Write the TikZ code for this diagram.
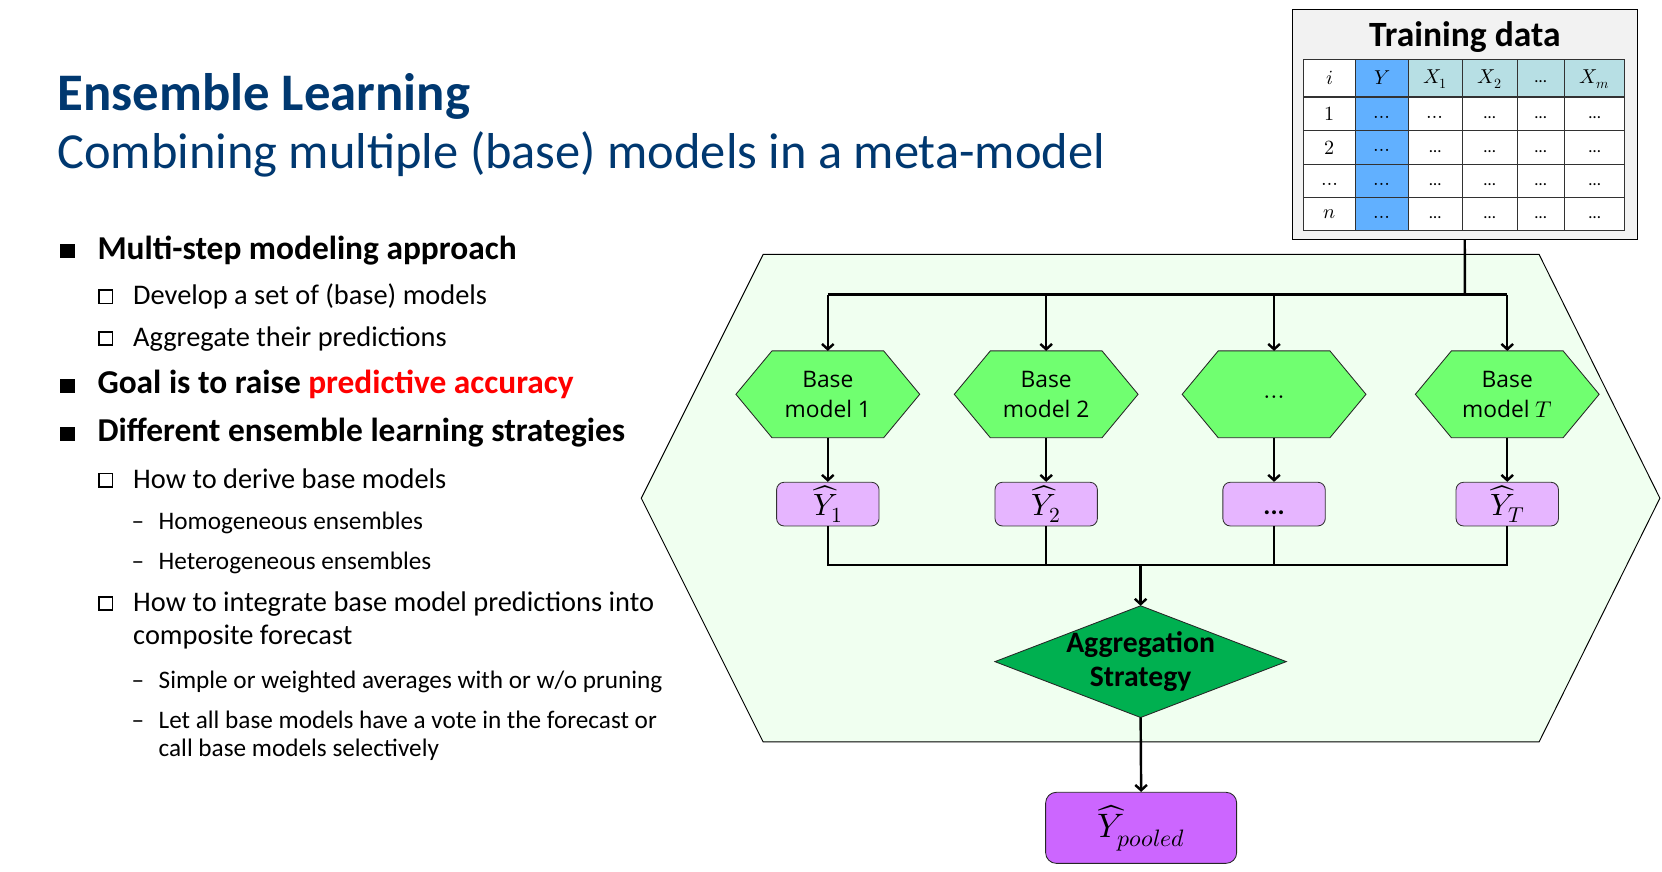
\documentclass[tikz,border=0pt]{standalone}
\usepackage{fontspec}
\usepackage{unicode-math}
\setmainfont{Carlito}
\setmathfont{Latin Modern Math}
\newfontfamily\hexfont{Open Sans}
\usetikzlibrary{arrows.meta}
\pgfdeclarelayer{background}
\pgfsetlayers{background,main}

\definecolor{titleblue}{RGB}{0,56,112}
\definecolor{hexgreen}{RGB}{112,255,112}
\definecolor{predlilac}{RGB}{230,181,255}
\definecolor{pooledviolet}{RGB}{204,102,255}
\definecolor{aggreen}{RGB}{0,176,80}
\definecolor{panelgreen}{RGB}{240,255,240}
\definecolor{ycol}{RGB}{97,176,255}
\definecolor{headteal}{RGB}{183,223,228}
\definecolor{boxgray}{RGB}{242,242,242}
\definecolor{gridgray}{RGB}{50,50,50}

\begin{document}
\begin{tikzpicture}[x=1pt,y=-1pt,
  conn/.style={line width=2.3pt},
  arr/.style={conn,-{Straight Barb[length=5pt,width=11pt]}},
  hexbox/.style={minimum width=173pt,minimum height=81.5pt,inner sep=0pt,
    align=center,font=\hexfont\fontsize{21.5}{28}\selectfont},
  hexshape/.style={fill=hexgreen,draw=black!85,line width=0.8pt},
  predbox/.style={draw=black!80,line width=0.8pt,fill=predlilac,rounded corners=7pt,
    minimum width=96.6pt,minimum height=41.2pt,inner sep=0pt,font=\fontsize{29}{31}\selectfont},
  cell/.style={inner sep=0pt,font=\fontsize{19}{21}\selectfont},
  gridline/.style={draw=gridgray,line width=1pt},
  lone/.style={anchor=base west,inner sep=0pt,font=\bfseries\fontsize{31.5}{34}\selectfont},
  ltwo/.style={anchor=base west,inner sep=0pt,font=\fontsize{26.8}{30}\selectfont},
  lthree/.style={anchor=base west,inner sep=0pt,font=\fontsize{23.8}{26}\selectfont},
  fullbullet/.style={fill=black,inner sep=0pt,minimum width=14pt,minimum height=13pt},
  openbullet/.style={draw=black,line width=1.4pt,inner sep=0pt,minimum size=12.6pt},
]
\useasboundingbox (0,0) rectangle (1568,822);

% ---------- heading ----------
\node[anchor=base west,inner sep=0pt,text=titleblue,font=\bfseries\fontsize{49.8}{54}\selectfont]
  (title) at (54,104.7) {Ensemble Learning};
\node[anchor=base west,inner sep=0pt,text=titleblue,font=\fontsize{47.6}{52}\selectfont]
  (subtitle) at (54,159.4) {Combining multiple (base) models in a meta-model};

% ---------- bullet list ----------
\node[fullbullet] (bu1) at (64,237) {};
\node[lone] (t1) at (91.8,244.6) {Multi-step modeling approach};
\node[openbullet] (bu2) at (99.8,280) {};
\node[ltwo] (t2) at (125.5,287.7) {Develop a set of (base) models};
\node[openbullet] (bu3) at (99.8,319.3) {};
\node[ltwo] (t3) at (125.5,327) {Aggregate their predictions};
\node[fullbullet] (bu4) at (64,364.1) {};
\node[lone] (t4) at (91.8,371.7) {Goal is to raise \textcolor{red}{predictive accuracy}};
\node[fullbullet] (bu5) at (64,409.1) {};
\node[lone] (t5) at (91.8,416.7) {Different ensemble learning strategies};
\node[openbullet] (bu6) at (99.8,453) {};
\node[ltwo] (t6) at (125.5,460.7) {How to derive base models};
\node[lthree] (d7) at (124,500) {--};
\node[lthree] (t7) at (149.5,500) {Homogeneous ensembles};
\node[lthree] (d8) at (124,537.7) {--};
\node[lthree] (t8) at (149.5,537.7) {Heterogeneous ensembles};
\node[openbullet] (bu9) at (99.8,569.3) {};
\node[ltwo] (t9a) at (125.5,577) {How to integrate base model predictions into};
\node[ltwo] (t9b) at (125.5,608.5) {composite forecast};
\node[lthree] (d10) at (124,649.4) {--};
\node[lthree] (t10) at (149.5,649.4) {Simple or weighted averages with or w/o pruning};
\node[lthree] (d11) at (124,687) {--};
\node[lthree] (t11a) at (149.5,687) {Let all base models have a vote in the forecast or};
\node[lthree] (t11b) at (149.5,713.9) {call base models selectively};

% ---------- training data ----------
\node[draw=black,line width=1pt,fill=boxgray,minimum width=325.4pt,minimum height=217pt,inner sep=0pt]
  (train) at (1381.9,117.3) {};
\node[anchor=base,inner sep=0pt,font=\bfseries\fontsize{33.5}{36}\selectfont]
  (traintitle) at (1382,43.5) {Training data};
\fill[white] (1229.5,55.9) rectangle (1533,217.9);
\fill[headteal] (1328.6,55.9) rectangle (1533,91.5);
\fill[ycol] (1279,55.9) rectangle (1328.6,217.9);
\foreach \yy in {91.5,123.3,155,186.5}
  \draw[gridline] (1229.5,\yy) -- (1533,\yy);
\foreach \xx in {1279,1328.6,1379.5,1431.4,1475.8}
  \draw[gridline] (\xx,55.9) -- (\xx,217.9);
\draw[gridline] (1229.5,55.9) rectangle (1533,217.9);
% header row
\node[cell] (h1) at (1254.3,73.7) {$i$};
\node[cell] (h2) at (1303.8,73.7) {$Y$};
\node[cell] (h3) at (1354,75) {$X_1$};
\node[cell] (h4) at (1405.5,75) {$X_2$};
\node[cell,font=\fontsize{16}{18}\selectfont] (h5) at (1453.6,77) {…};
\node[cell] (h6) at (1504.4,75) {$X_m$};
% body rows
\foreach \r/\yy/\lab in {1/107.4/$1$,2/139.2/$2$,3/173.8/$\ldots$,4/202.2/$n$}{
  \node[cell] (r\r c1) at (1254.3,\yy) {\lab};
}
\foreach \r/\yy in {1/107.4,2/139.2,3/170.8,4/202.2}{
  \node[cell] (r\r c2) at (1303.8,\yy+3) {$\ldots$};
  \node[cell,font=\fontsize{16}{18}\selectfont] (r\r c4) at (1405.5,\yy+3.5) {…};
  \node[cell,font=\fontsize{16}{18}\selectfont] (r\r c5) at (1453.6,\yy+3.5) {…};
  \node[cell,font=\fontsize{16}{18}\selectfont] (r\r c6) at (1504.4,\yy+3.5) {…};
}
\node[cell] (r1c3) at (1354,110.4) {$\ldots$};
\foreach \r/\yy in {2/139.2,3/170.8,4/202.2}
  \node[cell,font=\fontsize{16}{18}\selectfont] (r\r c3) at (1354,\yy+3.5) {…};

% ---------- base models ----------
\node[hexbox] (b1) at (781,372) {Base\\model 1};
\node[hexbox] (b2) at (987,372) {Base\\model 2};
\node[hexbox] (b3) at (1202,372) {};
\node[inner sep=0pt,font=\fontsize{24}{26}\selectfont] (b3dots) at (1202,377) {$\cdots$};
\node[hexbox] (bT) at (1422,372) {Base\\model $T$};

\node[predbox] (p1) at (781,475.6) {$\widehat{Y}_1$};
\node[predbox] (p2) at (987,475.6) {$\widehat{Y}_2$};
\node[predbox,font=\bfseries\fontsize{25}{28}\selectfont] (p3) at (1202,475.6) {\rule{0pt}{20pt}...};
\node[predbox] (pT) at (1422,475.6) {$\widehat{Y}_T$};

% ---------- aggregation ----------
\node[minimum width=274.5pt,minimum height=105pt,inner sep=0pt,align=center,
  font=\bfseries\fontsize{28}{32}\selectfont] (agg) at (1076.1,624.2) {Aggregation\\Strategy};
\node[draw=black!85,line width=0.8pt,fill=pooledviolet,rounded corners=10pt,
  minimum width=180.2pt,minimum height=67pt,inner sep=0pt,font=\fontsize{32}{34}\selectfont]
  (pooled) at (1076.6,781) {$\widehat{Y}_{pooled}$};

% ---------- shapes behind the labels ----------
\begin{pgfonlayer}{background}
  \filldraw[fill=panelgreen,draw=black,line width=0.9pt]
    (605,470) -- (720,240) -- (1452,240) -- (1566,470) -- (1452,700) -- (720,700) -- cycle;
  \foreach \h in {b1,b2,b3,bT}
    \filldraw[hexshape] (\h.west) -- ([xshift=34pt]\h.north west) -- ([xshift=-34pt]\h.north east)
      -- (\h.east) -- ([xshift=-34pt]\h.south east) -- ([xshift=34pt]\h.south west) -- cycle;
  \filldraw[fill=aggreen,draw=black!85,line width=0.8pt]
    (agg.west) -- (agg.north) -- (agg.east) -- (agg.south) -- cycle;
\end{pgfonlayer}

% ---------- connectors ----------
\coordinate (busT) at (1382,278);
\coordinate (busB) at (1076.1,533);
\draw[conn] (train.south) -- (busT);
\draw[conn] (b1.north |- busT) -- (bT.north |- busT);
\foreach \h in {b1,b2,b3,bT}
  \draw[arr] (\h.north |- busT) -- (\h.north);
\foreach \h in {1,2,3,T}
  \draw[arr] (b\h.south) -- (p\h.north);
\draw[conn] (p1.south) -- (p1.south |- busB) -- (pT.south |- busB) -- (pT.south);
\draw[conn] (p2.south) -- (p2.south |- busB);
\draw[conn] (p3.south) -- (p3.south |- busB);
\draw[arr] (busB) -- (agg.north);
\draw[arr] (agg.south) -- (pooled.north);
\end{tikzpicture}
\end{document}
